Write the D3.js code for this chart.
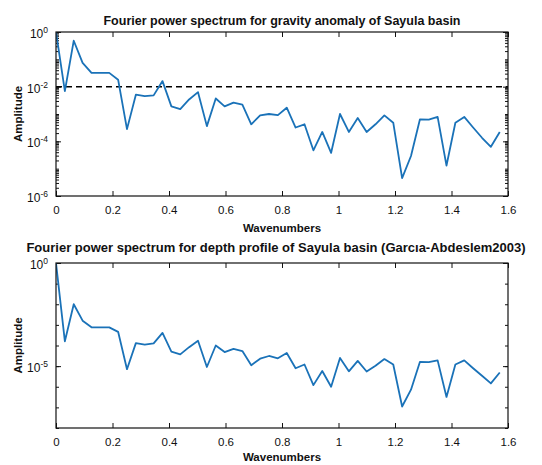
<!DOCTYPE html>
<html>
<head>
<meta charset="utf-8">
<script src="https://cdn.jsdelivr.net/npm/d3@7"></script>
<style>
  body { margin: 0; background: #fff; }
  svg { font-family: "Liberation Sans", Arial, Helvetica, sans-serif; }
</style>
</head>
<body>
<svg id="chart" width="542" height="465"></svg>
<script>
// wavenumber samples (0 .. pi/2)
const wavenumbers = [
  0, 0.0314, 0.0628, 0.0942, 0.1257, 0.1571, 0.1885, 0.2199, 0.2513, 0.2827,
  0.3142, 0.3456, 0.3770, 0.4084, 0.4398, 0.4712, 0.5027, 0.5341, 0.5655, 0.5969,
  0.6283, 0.6597, 0.6912, 0.7226, 0.7540, 0.7854, 0.8168, 0.8482, 0.8796, 0.9111,
  0.9425, 0.9739, 1.0053, 1.0367, 1.0681, 1.0996, 1.1310, 1.1624, 1.1938, 1.2252,
  1.2566, 1.2881, 1.3195, 1.3509, 1.3823, 1.4137, 1.4451, 1.4765, 1.5080, 1.5394,
  1.5708
]

// spectrum of the gravity anomaly
const gravityAmp = [
  1, 6.9e-3, 0.48, 0.074, 0.032, 0.032, 0.032, 0.018, 2.8e-4, 5.1e-3,
  4.5e-3, 4.8e-3, 0.016, 1.9e-3, 1.5e-3, 3.4e-3, 6.3e-3, 3.6e-4, 3.7e-3, 1.9e-3,
  2.6e-3, 2.2e-3, 4.2e-4, 8.9e-4, 1.0e-3, 9.1e-4, 1.7e-3, 3.2e-4, 4.2e-4, 4.7e-5,
  2.2e-4, 3.8e-5, 1.0e-3, 2.2e-4, 7.2e-4, 2.2e-4, 4.2e-4, 8.9e-4, 4.8e-4, 4.5e-6,
  2.9e-5, 6.3e-4, 6.2e-4, 7.8e-4, 1.3e-5, 4.8e-4, 7.8e-4, 3.2e-4, 1.35e-4, 6.3e-5,
  2.2e-4
]

// spectrum of the depth profile
const depthAmp = [
  1, 1.6e-4, 1.0e-2, 1.6e-3, 7.6e-4, 7.6e-4, 7.6e-4, 4.6e-4, 7.1e-6, 1.3e-4,
  1.1e-4, 1.26e-4, 4.1e-4, 5.0e-5, 3.7e-5, 8.3e-5, 1.7e-4, 9.1e-6, 1.0e-4, 4.8e-5,
  6.9e-5, 5.4e-5, 1.1e-5, 2.3e-5, 3.1e-5, 2.4e-5, 4.3e-5, 7.9e-6, 1.2e-5, 1.2e-6,
  5.8e-6, 1.0e-6, 2.5e-5, 5.6e-6, 1.8e-5, 5.5e-6, 1.05e-5, 2.2e-5, 1.2e-5, 1.1e-7,
  7.2e-7, 1.6e-5, 1.55e-5, 1.9e-5, 3.2e-7, 1.2e-5, 1.9e-5, 7.9e-6, 3.4e-6, 1.45e-6,
  4.9e-6
]

const xTicks = [0, 0.2, 0.4, 0.6, 0.8, 1, 1.2, 1.4, 1.6]
const threshold = 1e-2

const svg = d3.select('#chart')
const lineColor = '#1a72b8'

const drawPanel = (opts) => {
  const {top, bottom, left, right, values, yDomain, yLabels, yMinor, title, clipId} = opts
  const width = right - left
  const height = bottom - top

  const x = d3.scaleLinear().domain([0, 1.6]).range([0, width])
  const y = d3.scaleLog().domain(yDomain).range([height, 0])

  const g = svg.append('g').attr('transform', `translate(${left},${top})`)

  g.append('clipPath').attr('id', clipId)
    .append('rect').attr('width', width).attr('height', height)

  // x ticks, inward on bottom and top
  g.append('g')
      .attr('transform', `translate(0,${height})`)
      .call(d3.axisBottom(x).tickValues(xTicks).tickFormat(d3.format('')).tickSizeInner(-5).tickSizeOuter(0).tickPadding(10))
      .call((a) => a.select('.domain').remove())
      .call((a) => a.selectAll('text').attr('font-size', 11.5).attr('fill', '#111'))
  g.append('g')
      .call(d3.axisTop(x).tickValues(xTicks).tickFormat('').tickSizeInner(-5).tickSizeOuter(0))
      .call((a) => a.select('.domain').remove())

  // y minor ticks both sides
  g.append('g')
      .call(d3.axisLeft(y).tickValues(yMinor).tickFormat('').tickSizeInner(-3).tickSizeOuter(0))
      .call((a) => a.select('.domain').remove())
  g.append('g')
      .attr('transform', `translate(${width},0)`)
      .call(d3.axisRight(y).tickValues(yMinor).tickFormat('').tickSizeInner(-3).tickSizeOuter(0))
      .call((a) => a.select('.domain').remove())

  // y major ticks with power labels
  const yAxis = g.append('g')
      .call(d3.axisLeft(y).tickValues(yLabels).tickFormat('').tickSizeInner(-5).tickSizeOuter(0))
      .call((a) => a.select('.domain').remove())
  yAxis.selectAll('.tick text')
      .attr('font-size', 12)
      .attr('fill', '#111')
      .attr('text-anchor', 'end')
      .attr('x', -8)
      .attr('dy', '0.45em')
      .each(function (d) {
        const t = d3.select(this)
        t.append('tspan').text('10')
        t.append('tspan').attr('dy', -5).attr('font-size', 8.5).text(Math.round(Math.log10(d)))
      })
  g.append('g')
      .attr('transform', `translate(${width},0)`)
      .call(d3.axisRight(y).tickValues(yLabels).tickFormat('').tickSizeInner(-5).tickSizeOuter(0))
      .call((a) => a.select('.domain').remove())

  g.selectAll('.tick line').attr('stroke', '#111')

  const plot = g.append('g').attr('clip-path', `url(#${clipId})`)

  if (opts.dashed) {
    plot.append('line')
      .attr('x1', 0).attr('x2', width)
      .attr('y1', y(opts.dashed)).attr('y2', y(opts.dashed))
      .attr('stroke', '#000')
      .attr('stroke-width', 1.5)
      .attr('stroke-dasharray', '6,4')
  }

  const line = d3.line()
    .x((d, i) => x(wavenumbers[i]))
    .y((d) => y(d))

  plot.append('path')
    .datum(values)
    .attr('fill', 'none')
    .attr('stroke', lineColor)
    .attr('stroke-width', 1.8)
    .attr('stroke-linejoin', 'round')
    .attr('d', line)

  g.append('rect')
    .attr('width', width)
    .attr('height', height)
    .attr('fill', 'none')
    .attr('stroke', '#111')
    .attr('stroke-width', 1.2)

  svg.append('text')
    .attr('x', opts.titleX)
    .attr('y', top - opts.titleGap)
    .attr('text-anchor', 'middle')
    .attr('font-size', opts.titleSize)
    .attr('font-weight', 'bold')
    .attr('fill', '#111')
    .text(title)

  svg.append('text')
    .attr('x', left + width / 2)
    .attr('y', bottom + opts.xLabelGap)
    .attr('text-anchor', 'middle')
    .attr('font-size', 11.5)
    .attr('font-weight', 'bold')
    .attr('fill', '#111')
    .text('Wavenumbers')

  svg.append('text')
    .attr('transform', `translate(22,${top + height / 2}) rotate(-90)`)
    .attr('text-anchor', 'middle')
    .attr('font-size', 11.5)
    .attr('font-weight', 'bold')
    .attr('fill', '#111')
    .text('Amplitude')
}

const decadesMinor = (lo, hi, all) => {
  const out = []
  for (let e = lo; e < hi; e++) {
    for (let m = 1; m < 10; m++) {
      if (!all && m > 1) continue
      out.push(m * Math.pow(10, e))
    }
  }
  return out
}

drawPanel({
  top: 32, bottom: 196, left: 56, right: 508,
  values: gravityAmp,
  yDomain: [1e-6, 1],
  yLabels: [1e-6, 1e-4, 1e-2, 1],
  yMinor: decadesMinor(-6, 0, true),
  dashed: threshold,
  title: 'Fourier power spectrum for gravity anomaly of Sayula basin',
  titleX: 282,
  titleSize: 12.5,
  titleGap: 7,
  xLabelGap: 36,
  clipId: 'clip-top'
})

drawPanel({
  top: 263, bottom: 428, left: 56, right: 508,
  values: depthAmp,
  yDomain: [1e-8, 1],
  yLabels: [1e-5, 1],
  yMinor: decadesMinor(-8, 0, false),
  title: 'Fourier power spectrum for depth profile of Sayula basin (Garcıa-Abdeslem2003)',
  titleX: 276,
  titleSize: 13,
  titleGap: 11,
  xLabelGap: 33,
  clipId: 'clip-bottom'
})
</script>
</body>
</html>
